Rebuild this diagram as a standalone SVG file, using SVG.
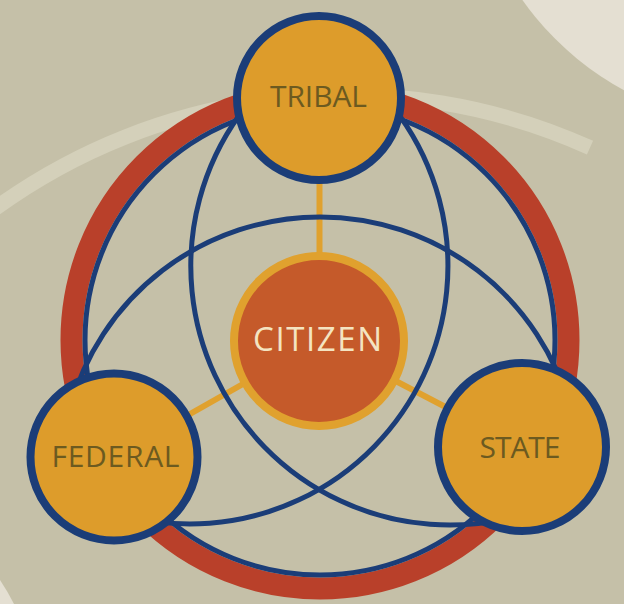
<svg xmlns="http://www.w3.org/2000/svg" width="624" height="604" viewBox="0 0 624 604">
  <style>
    .ring-red { fill: none; stroke: #b9402a; stroke-width: 22; }
    .blue { fill: none; stroke: #1b3d78; stroke-width: 5; stroke-linecap: round; }
    .conn { stroke: #e0a12e; stroke-width: 6; }
    .outer { fill: #dd9c2b; stroke: #1b3d78; stroke-width: 8; }
    .lbl { font-family: "Open Sans", "Noto Sans", sans-serif; font-size: 30px; fill: #6c5a20; text-anchor: middle; }
    .cit { font-family: "Open Sans", "Noto Sans", sans-serif; font-size: 33px; fill: #f4e4c1; text-anchor: middle; }
  </style>
  <rect x="0" y="0" width="624" height="604" fill="#c5c0a8"/>
  <circle cx="768" cy="-174" r="301" fill="#e4dfd2"/>
  <path d="M0,580 Q8,592 14,604 L0,604 Z" fill="#e4dfd2"/>
  <path d="M-10,212.3 A596,596 0 0 1 590,147.7" fill="none" stroke="#d4d0ba" stroke-width="15"/>

  <g id="ring">
    <circle class="ring-red" cx="320" cy="340" r="248.5"/>
    <circle class="blue" cx="320" cy="340" r="235"/>
  </g>

  <g id="connectors">
    <line class="conn" x1="319.5" y1="341" x2="319.5" y2="120"/>
    <line class="conn" x1="319" y1="341" x2="114" y2="457"/>
    <line class="conn" x1="319" y1="341" x2="522" y2="447"/>
    <path class="blue" d="M301.4,53.8 A259,259 0 0 0 517,516.2"/>
    <path class="blue" d="M338,54.7 A258,258 0 0 1 123.2,515.2"/>
    <path class="blue" d="M69.8,409 A259,259 0 0 1 570.2,409"/>
  </g>

  <g id="citizen">
    <circle cx="319" cy="341" r="85" fill="#c55a2a" stroke="#e0a12e" stroke-width="8"/>
    <text class="cit" x="317.5" y="351" textLength="129" lengthAdjust="spacing">CITIZEN</text>
  </g>

  <g id="tribal">
    <circle class="outer" cx="319" cy="98" r="82"/>
    <text class="lbl" x="318.5" y="107" textLength="97" lengthAdjust="spacing">TRIBAL</text>
  </g>

  <g id="federal">
    <circle class="outer" cx="114" cy="457" r="83.5"/>
    <text class="lbl" x="115.5" y="467" textLength="128" lengthAdjust="spacing">FEDERAL</text>
  </g>

  <g id="state">
    <circle class="outer" cx="522" cy="447" r="84"/>
    <text class="lbl" x="520" y="458" textLength="81" lengthAdjust="spacing">STATE</text>
  </g>
</svg>
